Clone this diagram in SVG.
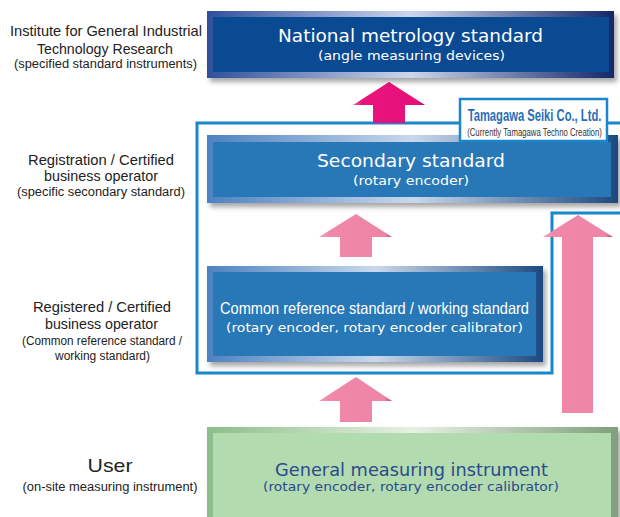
<svg xmlns="http://www.w3.org/2000/svg" width="620" height="517" viewBox="0 0 620 517">
<defs>
<style>
.lt{font-family:"Liberation Sans",Arial,sans-serif;fill:#222;text-anchor:middle}
.lt1{font-size:14.5px}
.lt2{font-size:12.5px}
.bx{font-family:"DejaVu Sans","Liberation Sans",sans-serif;fill:#fff;text-anchor:middle}
.bt{font-size:17px}
.bs{font-size:12.5px}
.cn{font-family:"Liberation Sans",Arial,sans-serif;fill:#fff;text-anchor:middle;font-size:16.5px}
.gt{fill:#2b4a8c}
.frame{fill:none;stroke:#1a87cc;stroke-width:3}
</style>
<linearGradient id="gNat" x1="0" y1="0" x2="1" y2="0">
<stop offset="0" stop-color="#2f4f9c"/><stop offset="0.5" stop-color="#cdd6ec"/><stop offset="1" stop-color="#13286a"/>
</linearGradient>
<linearGradient id="gSec" x1="0" y1="0" x2="1" y2="0">
<stop offset="0" stop-color="#4d82c0"/><stop offset="0.5" stop-color="#c9d8ec"/><stop offset="1" stop-color="#1c4a80"/>
</linearGradient>
<linearGradient id="gGrn" x1="0" y1="0" x2="1" y2="0">
<stop offset="0" stop-color="#8dbd8a"/><stop offset="0.5" stop-color="#e6f1e2"/><stop offset="1" stop-color="#809f7d"/>
</linearGradient>
<linearGradient id="gPink" x1="0" y1="0" x2="1" y2="0">
<stop offset="0" stop-color="#f49fba"/><stop offset="0.15" stop-color="#f088a8"/><stop offset="0.9" stop-color="#ef84a5"/><stop offset="1" stop-color="#b84a70"/>
</linearGradient>
<linearGradient id="gMag" x1="0" y1="0" x2="1" y2="0">
<stop offset="0" stop-color="#f06aa6"/><stop offset="0.12" stop-color="#e9147d"/><stop offset="0.9" stop-color="#e60f79"/><stop offset="1" stop-color="#a80a58"/>
</linearGradient>
<filter id="sh" x="-5%" y="-10%" width="115%" height="130%">
<feDropShadow dx="3" dy="4" stdDeviation="2.5" flood-color="#000" flood-opacity="0.35"/>
</filter>
</defs>

<g id="left-labels">
<text class="lt lt1" x="106" y="36" textLength="192" lengthAdjust="spacingAndGlyphs">Institute for General Industrial</text>
<text class="lt lt1" x="105" y="54" textLength="136" lengthAdjust="spacingAndGlyphs">Technology Research</text>
<text class="lt lt2" x="105.5" y="68" textLength="183" lengthAdjust="spacingAndGlyphs">(specified standard instruments)</text>
<text class="lt lt1" x="101" y="165" textLength="146" lengthAdjust="spacingAndGlyphs">Registration / Certified</text>
<text class="lt lt1" x="101" y="181" textLength="114" lengthAdjust="spacingAndGlyphs">business operator</text>
<text class="lt lt2" x="101" y="196" textLength="168" lengthAdjust="spacingAndGlyphs">(specific secondary standard)</text>
<text class="lt lt1" x="102" y="312" textLength="138" lengthAdjust="spacingAndGlyphs">Registered / Certified</text>
<text class="lt lt1" x="101.5" y="329" textLength="113" lengthAdjust="spacingAndGlyphs">business operator</text>
<text class="lt lt2" x="102" y="345" textLength="160" lengthAdjust="spacingAndGlyphs">(Common reference standard /</text>
<text class="lt lt2" x="102.5" y="360" textLength="95" lengthAdjust="spacingAndGlyphs">working standard)</text>
<text class="lt" x="110" y="472" font-size="19" textLength="45" lengthAdjust="spacingAndGlyphs">User</text>
<text class="lt lt2" x="110" y="491" textLength="175" lengthAdjust="spacingAndGlyphs">(on-site measuring instrument)</text>
</g>

<g id="connectors">
<path class="frame" d="M622,123 H197 V373 H552 V213 H622"/>
<polygon fill="url(#gMag)" points="389,82 425,105 405,105 405,123 373,123 373,105 353,105"/>
<polygon fill="url(#gPink)" points="356,214 392,237 372,237 372,257 340,257 340,237 319,237"/>
<polygon fill="url(#gPink)" points="356,377 392,401 372,401 372,422 340,422 340,401 319,401"/>
<polygon fill="url(#gPink)" points="578,215 613,237 593,237 593,413 562,413 562,237 543,237"/>
</g>

<g id="national">
<rect x="207" y="11" width="407" height="67" fill="url(#gNat)" filter="url(#sh)"/>
<rect x="213" y="17" width="396" height="55" fill="#0a4a92"/>
<text class="bx bt" x="410.5" y="42" textLength="265" lengthAdjust="spacingAndGlyphs">National metrology standard</text>
<text class="bx bs" x="411.5" y="60" textLength="187" lengthAdjust="spacingAndGlyphs">(angle measuring devices)</text>
</g>

<g id="secondary">
<rect x="207" y="135" width="411" height="68" fill="url(#gSec)" filter="url(#sh)"/>
<rect x="213" y="142" width="398" height="55" fill="#2878b8"/>
<text class="bx bt" x="411" y="167" textLength="188" lengthAdjust="spacingAndGlyphs">Secondary standard</text>
<text class="bx bs" x="411" y="185" textLength="116" lengthAdjust="spacingAndGlyphs">(rotary encoder)</text>
</g>

<g id="tamagawa">
<rect x="460" y="99" width="147" height="42" fill="#fff" stroke="#1a87cc" stroke-width="2.5"/>
<text transform="translate(534.5,121) scale(0.66,1)" x="0" y="0" font-family="Liberation Sans, Arial, sans-serif" font-weight="bold" font-size="17" fill="#2a6db5" text-anchor="middle">Tamagawa Seiki Co., Ltd.</text>
<text transform="translate(534.5,136) scale(0.74,1)" x="0" y="0" font-family="Liberation Sans, Arial, sans-serif" font-size="10.5" fill="#333" text-anchor="middle">(Currently Tamagawa Techno Creation)</text>
</g>

<g id="common">
<rect x="207" y="266" width="336" height="96" fill="url(#gSec)" filter="url(#sh)"/>
<rect x="213" y="272" width="323" height="84" fill="#2878b8"/>
<text class="cn" x="374.5" y="314" textLength="309" lengthAdjust="spacingAndGlyphs">Common reference standard / working standard</text>
<text class="bx bs" x="374.5" y="332" textLength="297" lengthAdjust="spacingAndGlyphs">(rotary encoder, rotary encoder calibrator)</text>
</g>

<g id="general">
<rect x="207" y="427" width="411" height="95" fill="url(#gGrn)" filter="url(#sh)"/>
<rect x="213" y="433" width="398" height="90" fill="#b3dbb0"/>
<text class="bx bt gt" x="411.5" y="476" textLength="273" lengthAdjust="spacingAndGlyphs">General measuring instrument</text>
<text class="bx bs gt" x="411" y="491" textLength="296" lengthAdjust="spacingAndGlyphs">(rotary encoder, rotary encoder calibrator)</text>
</g>
</svg>
